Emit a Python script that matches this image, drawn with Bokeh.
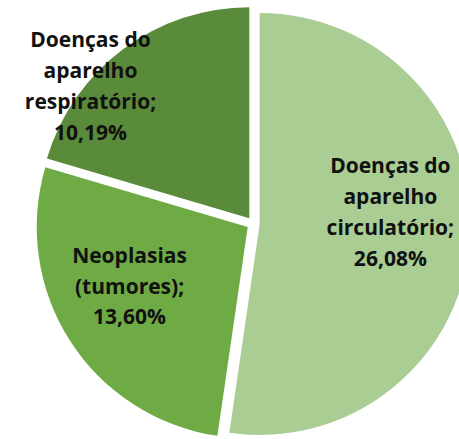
import numpy as np
from bokeh.plotting import figure
from bokeh.models import Range1d, ColumnDataSource
from bokeh.core.properties import value
from bokeh.embed import file_html
from bokeh.resources import INLINE

# ---- data ----
categories = ["Doenças do aparelho circulatório", "Neoplasias (tumores)", "Doenças do aparelho respiratório"]
label_lines = ["Doenças do\naparelho\ncirculatório;", "Neoplasias\n(tumores);", "Doenças do\naparelho\nrespiratório;"]
shares = [26.08, 13.60, 10.19]
pct_labels = ["26,08%", "13,60%", "10,19%"]

# ---- style / layout ----
colors = ["#A9CD93", "#6FAB45", "#5A8B3A"]
W, H = 459, 439
cx, cy = 252.7, H - 223          # pie centre (data units == pixels)
R = 211
explode = 6.5
label_off = [(0.65, 0.057), (-0.586, -0.294), (-0.771, 0.654)]  # fractions of R

vals = np.array(shares, dtype=float)
frac = vals / vals.sum()
cum_end = np.cumsum(frac) * 2 * np.pi
cum_start = cum_end - frac * 2 * np.pi
mid = (cum_start + cum_end) / 2          # clockwise from 12 o'clock

xs = cx + explode * np.sin(mid)
ys = cy + explode * np.cos(mid)
start = np.pi / 2 - cum_end
end = np.pi / 2 - cum_start

src = ColumnDataSource(dict(x=xs, y=ys, start=start, end=end, color=colors, cat=categories))

p = figure(width=W, height=H, output_backend="svg", toolbar_location=None,
           x_range=Range1d(0, W), y_range=Range1d(0, H),
           min_border=0)
p.axis.visible = False
p.grid.visible = False
p.outline_line_color = None
p.background_fill_color = "white"
p.border_fill_color = "white"

p.wedge(x="x", y="y", radius=R, start_angle="start", end_angle="end",
        fill_color="color", line_color=None, source=src)

lx = [cx + o[0] * R for o in label_off]
ly = [cy + o[1] * R for o in label_off]
texts = [f"{a}\n{b}" for a, b in zip(label_lines, pct_labels)]
p.text(x=lx, y=ly, text=texts, text_align="center", text_baseline="middle",
       text_font=value("Open Sans"), text_font_style="bold", text_font_size="21px",
       text_line_height=1.1, text_color="#111111")

open("out.html", "w").write(file_html(p, INLINE))
